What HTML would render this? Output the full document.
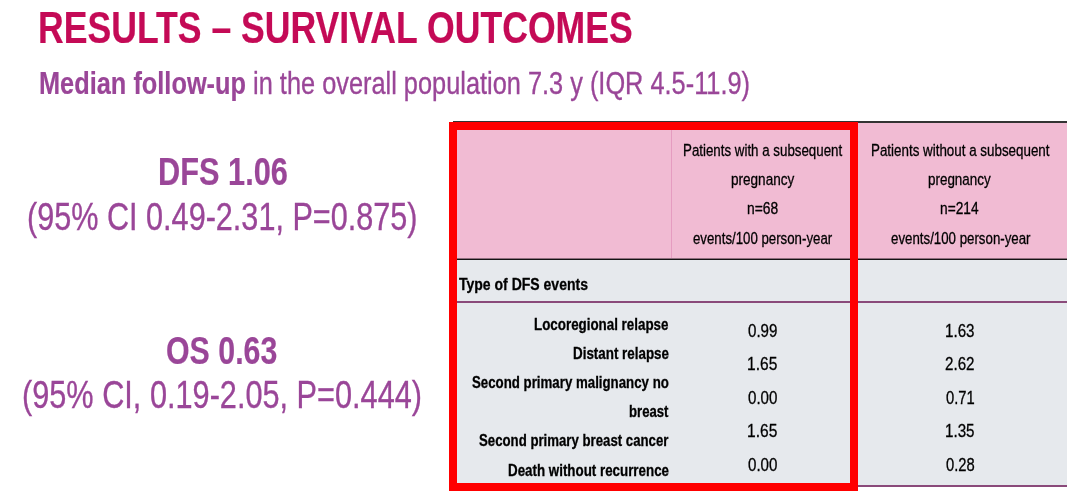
<!DOCTYPE html>
<html lang="en"><head><meta charset="utf-8"><title>Results – Survival Outcomes</title>
<style>
html,body{margin:0;padding:0;background:#fff}
body{width:1080px;height:500px;position:relative;overflow:hidden;font-family:'Liberation Sans', Arial, sans-serif}
.t{position:absolute;white-space:nowrap;line-height:1;transform-origin:0 0;display:block}
.t b{-webkit-text-stroke-width:.2px}
.box{position:absolute}
</style></head><body>
<div class="box" style="left:453px;top:121px;width:614px;height:2px;background:#333"></div>
<div class="box" style="left:453px;top:123px;width:614px;height:136px;background:#f1bbd3"></div>
<div class="box" style="left:671px;top:123px;width:1px;height:136px;background:#e59cc0"></div>
<div class="box" style="left:453px;top:258px;width:614px;height:1px;background:#8f6f7e"></div>
<div class="box" style="left:453px;top:259px;width:614px;height:1px;background:#141414"></div>
<div class="box" style="left:453px;top:260px;width:614px;height:226px;background:#e6e9ed"></div>
<div class="box" style="left:453px;top:301px;width:614px;height:2px;background:#8a4a7a"></div>
<div class="box" style="left:453px;top:485px;width:614px;height:2px;background:#8a4a7a"></div>
<span class="t" style="left:38.33px;top:5px;font-size:45.1px;font-weight:700;color:#c40a56;-webkit-text-stroke:0.2px #c40a56;transform:scaleX(0.7895)">RESULTS – SURVIVAL OUTCOMES</span>
<span class="t" style="left:39.07px;top:68px;font-size:31.2px;font-weight:400;color:#9a4698;-webkit-text-stroke:0.35px #9a4698;transform:scaleX(0.8129)"><b>Median follow-up</b> in the overall population 7.3 y (IQR 4.5-11.9)</span>
<span class="t" style="left:157.61px;top:153px;font-size:38.7px;font-weight:700;color:#9a4698;-webkit-text-stroke:0.2px #9a4698;transform:scaleX(0.7950)">DFS 1.06</span>
<span class="t" style="left:27.42px;top:198px;font-size:38.7px;font-weight:400;color:#9a4698;-webkit-text-stroke:0.35px #9a4698;transform:scaleX(0.7912)">(95% CI 0.49-2.31, P=0.875)</span>
<span class="t" style="left:166.42px;top:332px;font-size:38.7px;font-weight:700;color:#9a4698;-webkit-text-stroke:0.2px #9a4698;transform:scaleX(0.7843)">OS 0.63</span>
<span class="t" style="left:22.01px;top:376px;font-size:38.7px;font-weight:400;color:#9a4698;-webkit-text-stroke:0.35px #9a4698;transform:scaleX(0.7932)">(95% CI, 0.19-2.05, P=0.444)</span>
<span class="t" style="left:682.68px;top:142px;font-size:16.3px;font-weight:400;color:#000000;-webkit-text-stroke:0.3px #000000;transform:scaleX(0.8180)">Patients with a subsequent</span>
<span class="t" style="left:731.07px;top:171px;font-size:16.3px;font-weight:400;color:#000000;-webkit-text-stroke:0.3px #000000;transform:scaleX(0.8320)">pregnancy</span>
<span class="t" style="left:746.65px;top:200px;font-size:16.3px;font-weight:400;color:#000000;-webkit-text-stroke:0.3px #000000;transform:scaleX(0.8486)">n=68</span>
<span class="t" style="left:693.40px;top:230px;font-size:16.3px;font-weight:400;color:#000000;-webkit-text-stroke:0.3px #000000;transform:scaleX(0.8135)">events/100 person-year</span>
<span class="t" style="left:870.88px;top:142px;font-size:16.3px;font-weight:400;color:#000000;-webkit-text-stroke:0.3px #000000;transform:scaleX(0.8218)">Patients without a subsequent</span>
<span class="t" style="left:928.08px;top:171px;font-size:16.3px;font-weight:400;color:#000000;-webkit-text-stroke:0.3px #000000;transform:scaleX(0.8240)">pregnancy</span>
<span class="t" style="left:940.26px;top:200px;font-size:16.3px;font-weight:400;color:#000000;-webkit-text-stroke:0.3px #000000;transform:scaleX(0.8422)">n=214</span>
<span class="t" style="left:890.70px;top:230px;font-size:16.3px;font-weight:400;color:#000000;-webkit-text-stroke:0.3px #000000;transform:scaleX(0.8158)">events/100 person-year</span>
<span class="t" style="left:459.10px;top:276px;font-size:16.3px;font-weight:700;color:#000000;-webkit-text-stroke:0.3px #000000;transform:scaleX(0.8604)">Type of DFS events</span>
<span class="t" style="left:534.38px;top:316px;font-size:16.3px;font-weight:700;color:#000000;-webkit-text-stroke:0.3px #000000;transform:scaleX(0.8209)">Locoregional relapse</span>
<span class="t" style="left:572.78px;top:345px;font-size:16.3px;font-weight:700;color:#000000;-webkit-text-stroke:0.3px #000000;transform:scaleX(0.8224)">Distant relapse</span>
<span class="t" style="left:472.30px;top:374px;font-size:16.3px;font-weight:700;color:#000000;-webkit-text-stroke:0.3px #000000;transform:scaleX(0.8149)">Second primary malignancy no</span>
<span class="t" style="left:629.19px;top:403px;font-size:16.3px;font-weight:700;color:#000000;-webkit-text-stroke:0.3px #000000;transform:scaleX(0.8063)">breast</span>
<span class="t" style="left:478.80px;top:432px;font-size:16.3px;font-weight:700;color:#000000;-webkit-text-stroke:0.3px #000000;transform:scaleX(0.8115)">Second primary breast cancer</span>
<span class="t" style="left:507.98px;top:462px;font-size:16.3px;font-weight:700;color:#000000;-webkit-text-stroke:0.3px #000000;transform:scaleX(0.8200)">Death without recurrence</span>
<span class="t" style="left:748.20px;top:322px;font-size:18.2px;font-weight:400;color:#000000;-webkit-text-stroke:0.3px #000000;transform:scaleX(0.8314)">0.99</span>
<span class="t" style="left:945.36px;top:322px;font-size:18.2px;font-weight:400;color:#000000;-webkit-text-stroke:0.3px #000000;transform:scaleX(0.8353)">1.63</span>
<span class="t" style="left:747.34px;top:355px;font-size:18.2px;font-weight:400;color:#000000;-webkit-text-stroke:0.3px #000000;transform:scaleX(0.8559)">1.65</span>
<span class="t" style="left:945.36px;top:355px;font-size:18.2px;font-weight:400;color:#000000;-webkit-text-stroke:0.3px #000000;transform:scaleX(0.8353)">2.62</span>
<span class="t" style="left:748.20px;top:389px;font-size:18.2px;font-weight:400;color:#000000;-webkit-text-stroke:0.3px #000000;transform:scaleX(0.8314)">0.00</span>
<span class="t" style="left:946.20px;top:389px;font-size:18.2px;font-weight:400;color:#000000;-webkit-text-stroke:0.3px #000000;transform:scaleX(0.8114)">0.71</span>
<span class="t" style="left:747.34px;top:422px;font-size:18.2px;font-weight:400;color:#000000;-webkit-text-stroke:0.3px #000000;transform:scaleX(0.8559)">1.65</span>
<span class="t" style="left:945.36px;top:422px;font-size:18.2px;font-weight:400;color:#000000;-webkit-text-stroke:0.3px #000000;transform:scaleX(0.8353)">1.35</span>
<span class="t" style="left:748.20px;top:456px;font-size:18.2px;font-weight:400;color:#000000;-webkit-text-stroke:0.3px #000000;transform:scaleX(0.8314)">0.00</span>
<span class="t" style="left:946.20px;top:456px;font-size:18.2px;font-weight:400;color:#000000;-webkit-text-stroke:0.3px #000000;transform:scaleX(0.8114)">0.28</span>
<div class="box" style="left:449px;top:122px;width:393px;height:353px;border:8px solid #ff0000"></div>
</body></html>
